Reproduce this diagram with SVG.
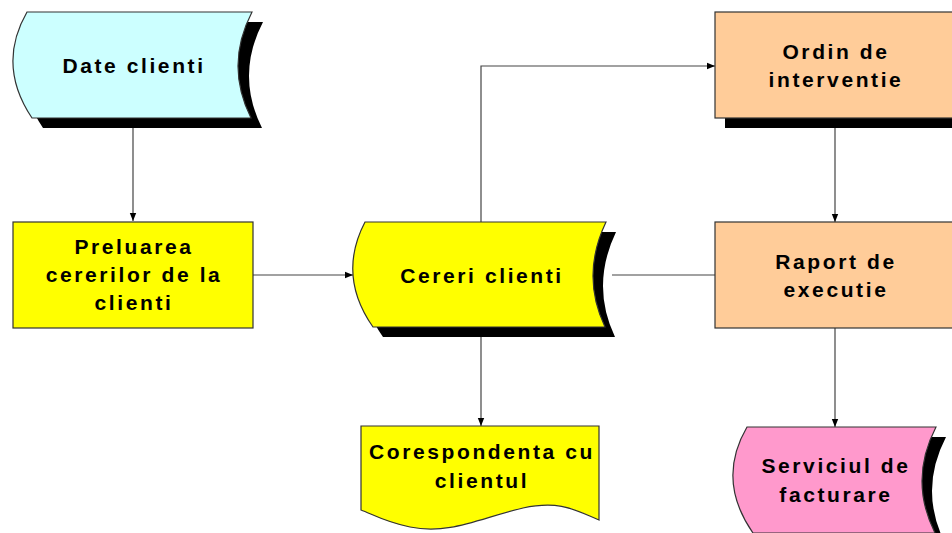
<svg xmlns="http://www.w3.org/2000/svg" width="952" height="533" viewBox="0 0 952 533">
  <defs>
    <marker id="arr" viewBox="0 0 10 10" refX="10" refY="5" markerWidth="8" markerHeight="8" markerUnits="userSpaceOnUse" orient="auto">
      <path d="M0,1 L10,5 L0,9 Z" fill="#000"/>
    </marker>
    <style>
      .lbl { font-family: "Liberation Sans", Arial, sans-serif; font-weight: bold; font-size: 21px; letter-spacing: 2.6px; fill: #000; text-anchor: middle; }
      .edge { stroke: #444; stroke-width: 1.2; fill: none; }
      .shadow { fill: #000; }
      .outline { stroke: #333; stroke-width: 1.2; }
      .cyan { fill: #CCFFFF; }
      .yellow { fill: #FFFF00; }
      .peach { fill: #FFCC99; }
      .pink { fill: #FF99CC; }
    </style>
  </defs>
  <rect width="952" height="533" fill="#fff"/>

  <g id="connectors">
    <path class="edge" d="M133,128 L133,221" marker-end="url(#arr)"/>
    <path class="edge" d="M253,275 L353,275" marker-end="url(#arr)"/>
    <path class="edge" d="M481,222 L481,66 L715,66" marker-end="url(#arr)"/>
    <path class="edge" d="M835,128 L835,222" marker-end="url(#arr)"/>
    <path class="edge" d="M612,275 L715,275"/>
    <path class="edge" d="M481,337 L481,426" marker-end="url(#arr)"/>
    <path class="edge" d="M835,328 L835,427" marker-end="url(#arr)"/>
  </g>

  <g id="date-clienti">
    <path class="shadow" transform="translate(11,10)" d="M27,12 L252,12 Q224.5,65 251,118 L32,118 Q-3.5,65 27,12 Z"/>
    <path class="cyan outline" d="M27,12 L252,12 Q224.5,65 251,118 L32,118 Q-3.5,65 27,12 Z"/>
    <text class="lbl" x="134" y="73">Date clienti</text>
  </g>

  <g id="preluarea">
    <rect class="yellow outline" x="13" y="222" width="240" height="106"/>
    <text class="lbl" x="134" y="254">Preluarea</text>
    <text class="lbl" x="134" y="282">cererilor de la</text>
    <text class="lbl" x="134" y="310">clienti</text>
  </g>

  <g id="cereri-clienti">
    <path class="shadow" transform="translate(10,10)" d="M365,222 L606,222 Q580.5,275.5 605,327 L373,327 Q337,275.5 365,222 Z"/>
    <path class="yellow outline" d="M365,222 L606,222 Q580.5,275.5 605,327 L373,327 Q337,275.5 365,222 Z"/>
    <text class="lbl" x="482" y="283">Cereri clienti</text>
  </g>

  <g id="ordin">
    <rect class="shadow" x="725" y="22" width="240" height="106"/>
    <rect class="peach outline" x="715" y="12" width="250" height="106"/>
    <text class="lbl" x="836" y="59">Ordin de</text>
    <text class="lbl" x="836" y="87">interventie</text>
  </g>

  <g id="raport">
    <rect class="peach outline" x="715" y="222" width="250" height="106"/>
    <text class="lbl" x="836" y="269">Raport de</text>
    <text class="lbl" x="836" y="297">executie</text>
  </g>

  <g id="corespondenta">
    <path class="yellow outline" d="M361,426 L599,426 L599,520 C575,510 560,500 523,508 C480,518 450,535 410,527 C385,522 372,514 361,510 Z"/>
    <text class="lbl" x="482" y="459">Corespondenta cu</text>
    <text class="lbl" x="482" y="488">clientul</text>
  </g>

  <g id="serviciul">
    <path class="shadow" transform="translate(10,10)" d="M747,427 L936,427 Q908.5,480 935,533 L753,533 Q716,480 747,427 Z"/>
    <path class="pink outline" d="M747,427 L936,427 Q908.5,480 935,533 L753,533 Q716,480 747,427 Z"/>
    <text class="lbl" x="836" y="473">Serviciul de</text>
    <text class="lbl" x="836" y="502">facturare</text>
  </g>
</svg>
